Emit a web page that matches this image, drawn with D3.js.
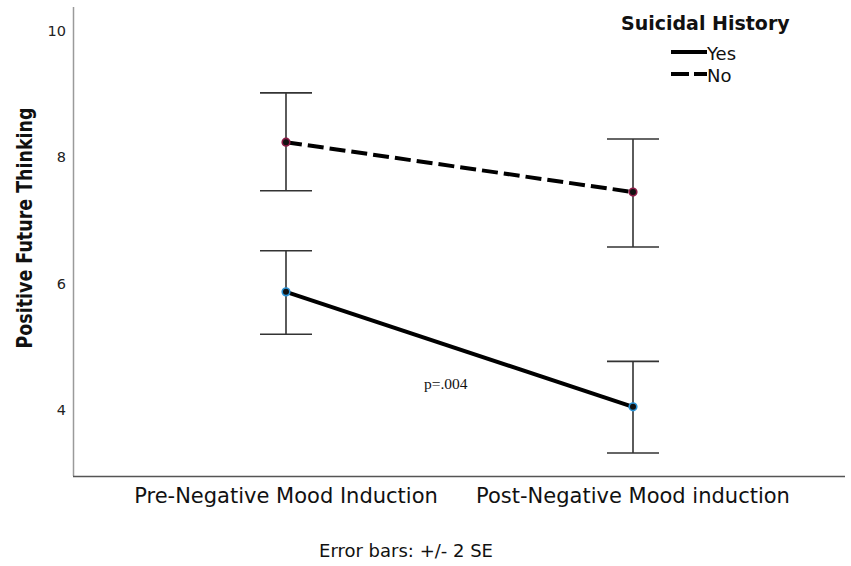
<!DOCTYPE html>
<html><head><meta charset="utf-8">
<script src="https://cdn.jsdelivr.net/npm/d3@7"></script>
<style>body{margin:0;background:#fff}svg{display:block}</style>
</head><body>
<svg id="c" width="851" height="566"></svg>
<script>
const categories = ["Pre-Negative Mood Induction", "Post-Negative Mood induction"];
const groups = ["Yes", "No"];
const yesMeans = [5.87, 4.05];
const yesLow = [5.20, 3.32];
const yesHigh = [6.52, 4.77];
const noMeans = [8.24, 7.45];
const noLow = [7.47, 6.58];
const noHigh = [9.02, 8.29];
const yTicks = [4, 6, 8, 10];

const series = [
  {name: "Yes", means: yesMeans, low: yesLow, high: yesHigh, dash: null, pt: "#2b93d6"},
  {name: "No", means: noMeans, low: noLow, high: noHigh, dash: "16,6", pt: "#8a1a45"}
];

const svg = d3.select("#c");
const x = d3.scalePoint().domain(categories).range([286, 633]);
const y = d3.scaleLinear().domain([2.955, 10.38]).range([476, 7]);

// axes
svg.append("line").attr("x1", 73.5).attr("x2", 73.5).attr("y1", 7).attr("y2", 476)
  .attr("stroke", "#9a9a9a").attr("stroke-width", 1.5);
svg.append("line").attr("x1", 73).attr("x2", 845).attr("y1", 476.5).attr("y2", 476.5)
  .attr("stroke", "#555").attr("stroke-width", 1.5);

svg.append("g").selectAll("text").data(yTicks).join("text")
  .attr("x", 66).attr("y", d => y(d)).attr("dy", "0.35em")
  .attr("text-anchor", "end").attr("font-family", "DejaVu Sans")
  .attr("font-size", 14.5).attr("fill", "#222").text(d => d);

svg.append("text").attr("transform", "translate(32,228) rotate(-90)")
  .attr("text-anchor", "middle").attr("font-family", "DejaVu Sans")
  .attr("font-weight", "bold").attr("font-size", 22).attr("fill", "#111")
  .attr("textLength", 241).attr("lengthAdjust", "spacingAndGlyphs")
  .text("Positive Future Thinking");

svg.append("g").selectAll("text").data(categories).join("text")
  .attr("x", d => x(d)).attr("y", 503).attr("text-anchor", "middle")
  .attr("font-family", "DejaVu Sans").attr("font-size", 21).attr("fill", "#111")
  .text(d => d);

svg.append("text").attr("x", 406).attr("y", 557).attr("text-anchor", "middle")
  .attr("font-family", "DejaVu Sans").attr("font-size", 18).attr("fill", "#111")
  .text("Error bars: +/- 2 SE");

// error bars
const eb = svg.append("g").attr("stroke", "#333").attr("stroke-width", 1.6);
series.forEach(s => {
  categories.forEach((c, i) => {
    const cx = x(c);
    eb.append("line").attr("x1", cx).attr("x2", cx).attr("y1", y(s.high[i])).attr("y2", y(s.low[i]));
    eb.append("line").attr("x1", cx - 26).attr("x2", cx + 26).attr("y1", y(s.high[i])).attr("y2", y(s.high[i]));
    eb.append("line").attr("x1", cx - 26).attr("x2", cx + 26).attr("y1", y(s.low[i])).attr("y2", y(s.low[i]));
  });
});

// lines
const line = d3.line().x((d, i) => x(categories[i])).y(d => y(d));
series.forEach(s => {
  svg.append("path").datum(s.means).attr("d", line)
    .attr("fill", "none").attr("stroke", "#000").attr("stroke-width", 4)
    .attr("stroke-dasharray", s.dash);
});
series.forEach(s => {
  svg.append("g").selectAll("circle").data(s.means).join("circle")
    .attr("cx", (d, i) => x(categories[i])).attr("cy", d => y(d)).attr("r", 3.8)
    .attr("fill", "#111").attr("stroke", s.pt).attr("stroke-width", 1.6);
});

svg.append("text").attr("x", 424).attr("y", 389)
  .attr("font-family", "Liberation Serif").attr("font-size", 15.5).attr("fill", "#111")
  .text("p=.004");

// legend
svg.append("text").attr("x", 621).attr("y", 30)
  .attr("font-family", "DejaVu Sans").attr("font-weight", "bold").attr("font-size", 19)
  .attr("fill", "#111").text("Suicidal History");
const lg = svg.append("g").selectAll("g").data(series).join("g")
  .attr("transform", (d, i) => `translate(671,${52 + i * 22})`);
lg.append("line").attr("x1", 0).attr("x2", 36).attr("y1", 0).attr("y2", 0)
  .attr("stroke", "#000").attr("stroke-width", 4)
  .attr("stroke-dasharray", d => d.dash ? "18,5" : null);
lg.append("text").attr("x", 36).attr("y", 8)
  .attr("font-family", "DejaVu Sans").attr("font-size", 18).attr("fill", "#111")
  .text(d => d.name);
</script>
</body></html>
